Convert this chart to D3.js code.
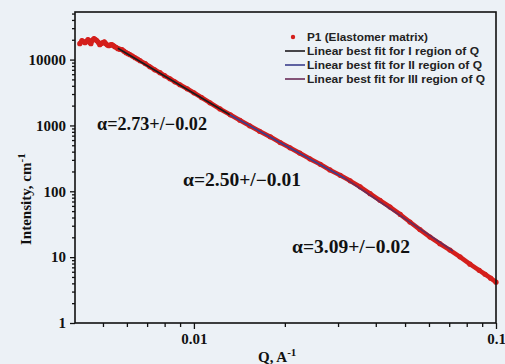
<!DOCTYPE html>
<html><head><meta charset="utf-8">
<script src="https://cdn.jsdelivr.net/npm/d3@7"></script>
<style>
html,body{margin:0;padding:0;background:#ecf1f6;}
svg{display:block;}
</style></head>
<body>
<svg id="c" width="505" height="364"></svg>
<script>
// ---- data ----
const qValues = [0.00419,0.00426,0.00431,0.00436,0.00441,0.00446,0.00451,0.00456,0.00461,0.00467,0.00472,0.00477,0.00483,0.00488,0.00494,0.00500,0.00505,0.00511,0.00517,0.00523,0.00529,0.00535,0.00541,0.00547,0.00554,0.00560,0.00568,0.00578,0.00587,0.00596,0.00605,0.00614,0.00626,0.00638,0.00650,0.00663,0.00690,0.00715,0.00742,0.00772,0.00800,0.00833,0.00865,0.00899,0.00950,0.0100,0.0106,0.0113,0.0122,0.0132,0.0142,0.0153,0.0165,0.0179,0.0193,0.0208,0.0224,0.0242,0.0262,0.0282,0.0305,0.0329,0.0355,0.0383,0.0413,0.0446,0.0482,0.0519,0.0560,0.0605,0.0652,0.0704,0.0760,0.0820,0.0880,0.0920,0.0960,0.1000];
const intensityValues = [17460,19400,18600,18070,19000,20090,18300,17460,19700,20800,20100,19400,18200,16870,17600,18070,18600,17460,16600,16290,16700,16870,16300,15710,15200,14650,14400,14160,13400,12740,12300,11880,11300,10690,10200,9620,8700,7790,7000,6320,5700,5120,4600,4150,3600,3130,2650,2207,1780,1450,1200,988,815,671,550,457,380,311,257,211,175,144,117,92,73,57.7,44.5,34.1,26.2,20.2,16.0,12.8,10.1,7.83,6.3,5.5,4.8,4.17];

const fitNames = ["Linear best fit for I region of Q","Linear best fit for II region of Q","Linear best fit for III region of Q"];
const fitQStart = [0.0056, 0.01315, 0.0316];
const fitQEnd   = [0.01315, 0.0316, 0.072];
const fitIStart = [14900, 1450, 158];
const fitIEnd   = [1450, 158, 12.4];
const fitColors = ["#1c1a1e", "#3b3f8c", "#6a2c58"];
const alphaLabels = ["\u03b1=2.73+/\u22120.02", "\u03b1=2.50+/\u22120.01", "\u03b1=3.09+/\u22120.02"];

const seriesName = "P1 (Elastomer matrix)";
const yTickValues = [1, 10, 100, 1000, 10000];
const yTickLabels = ["1", "10", "100", "1000", "10000"];
const xTickValues = [0.01, 0.1];
const xTickLabels = ["0.01", "0.1"];

// ---- layout ----
const svg = d3.select("#c");
const L = 75, R = 496, T = 12, B = 323;
const x = d3.scaleLog().domain([0.00404, 0.1]).range([L, R]);
const y = d3.scaleLog().domain([1, 52800]).range([B, T]);
const serif = "'Liberation Serif','Times New Roman',serif";
const sans = "'Liberation Sans',Arial,sans-serif";

// data
const pts = qValues.map((q, i) => [q, intensityValues[i]]);
const line = d3.line().x(d => x(d[0])).y(d => y(d[1]));
svg.append("path").attr("d", line(pts)).attr("fill", "none")
  .attr("stroke", "#d41f1c").attr("stroke-width", 4.6).attr("stroke-linejoin", "round");
svg.append("g").selectAll("circle").data(pts).join("circle")
  .attr("cx", d => x(d[0])).attr("cy", d => y(d[1])).attr("r", 2.6).attr("fill", "#d41f1c");

// fits
fitNames.forEach((n, i) => {
  svg.append("path").attr("d", line([[fitQStart[i], fitIStart[i]], [fitQEnd[i], fitIEnd[i]]]))
    .attr("stroke", fitColors[i]).attr("stroke-width", 1.8).attr("fill", "none");
});

// frame
svg.append("rect").attr("x", L).attr("y", T).attr("width", R - L).attr("height", B - T)
  .attr("fill", "none").attr("stroke", "#111").attr("stroke-width", 1.6);

// y axis
const yMinor = y.ticks().filter(v => !yTickValues.includes(v));
const yAx = svg.append("g").attr("transform", `translate(${L},0)`);
yAx.call(d3.axisLeft(y).tickValues(yMinor).tickSize(3).tickFormat(""));
yAx.append("g").call(d3.axisLeft(y).tickValues(yTickValues).tickSize(5).tickPadding(4)
  .tickFormat((d, i) => yTickLabels[i]));
yAx.selectAll(".domain").remove();
yAx.selectAll("line").attr("stroke", "#111").attr("stroke-width", 1.3);
yAx.selectAll("text").attr("font-family", serif).attr("font-weight", "bold")
  .attr("font-size", 15).attr("fill", "#111");

// x axis
const xMinor = x.ticks().filter(v => !xTickValues.some(t => Math.abs(t - v) < 1e-9));
const xAx = svg.append("g").attr("transform", `translate(0,${B})`);
xAx.call(d3.axisBottom(x).tickValues(xMinor).tickSize(4).tickFormat(""));
xAx.append("g").call(d3.axisBottom(x).tickValues(xTickValues).tickSize(6).tickPadding(4)
  .tickFormat((d, i) => xTickLabels[i]));
xAx.selectAll(".domain").remove();
xAx.selectAll("line").attr("stroke", "#111").attr("stroke-width", 1.3);
xAx.selectAll("text").attr("font-family", serif).attr("font-weight", "bold")
  .attr("font-size", 15).attr("fill", "#111");

// axis titles
const xt = svg.append("text").attr("x", 258).attr("y", 362).attr("font-family", serif)
  .attr("font-weight", "bold").attr("font-size", 15).attr("fill", "#111");
xt.append("tspan").text("Q, A");
xt.append("tspan").attr("dy", -6).attr("font-size", 11).text("-1");

const yt = svg.append("text").attr("transform", "translate(31,245) rotate(-90)")
  .attr("font-family", serif).attr("font-weight", "bold").attr("font-size", 15).attr("fill", "#111");
yt.append("tspan").text("Intensity, cm");
yt.append("tspan").attr("dy", -6).attr("font-size", 11).text("-1");

// alpha annotations
const ann = [[97, 130, 110], [183, 186, 118], [292, 253, 118]];
alphaLabels.forEach((t, i) => {
  svg.append("text").attr("x", ann[i][0]).attr("y", ann[i][1]).attr("font-family", serif)
    .attr("font-weight", "bold").attr("font-size", 18).attr("fill", "#111")
    .attr("textLength", ann[i][2]).attr("lengthAdjust", "spacingAndGlyphs").text(t);
});

// legend
const lg = svg.append("g");
lg.append("circle").attr("cx", 293).attr("cy", 37).attr("r", 2.2).attr("fill", "#d41f1c");
lg.append("text").attr("x", 307).attr("y", 41).attr("font-family", sans).attr("font-weight", "bold")
  .attr("font-size", 11).attr("fill", "#222")
  .attr("textLength", 121).attr("lengthAdjust", "spacingAndGlyphs").text(seriesName);
const legLen = [172, 175, 178];
fitNames.forEach((n, i) => {
  const yy = 51 + i * 14;
  lg.append("line").attr("x1", 285).attr("x2", 305).attr("y1", yy).attr("y2", yy)
    .attr("stroke", fitColors[i]).attr("stroke-width", 1.6);
  lg.append("text").attr("x", 307).attr("y", yy + 4).attr("font-family", sans).attr("font-weight", "bold")
    .attr("font-size", 11).attr("fill", "#222")
    .attr("textLength", legLen[i]).attr("lengthAdjust", "spacingAndGlyphs").text(n);
});
</script>
</body></html>
